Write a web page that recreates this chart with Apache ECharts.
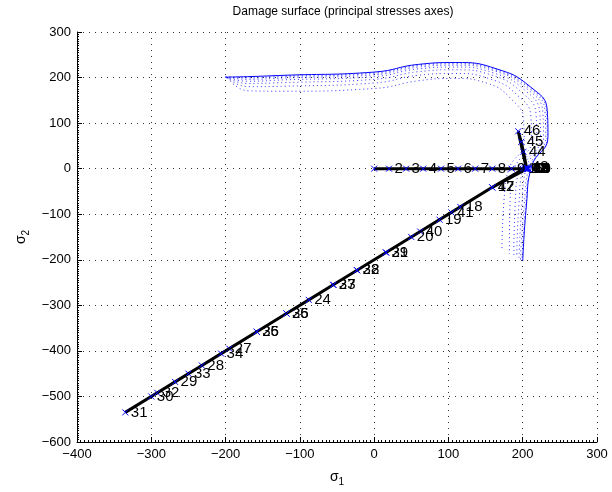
<!DOCTYPE html>
<html><head><meta charset="utf-8">
<script src="https://cdn.jsdelivr.net/npm/echarts@6/dist/echarts.min.js"></script>
<style>html,body{margin:0;padding:0;background:#fff}#c{width:612px;height:492px}</style>
</head><body><div id="c"></div>
<script>
// Blue damage surfaces (sigma1, sigma2), outermost first
const surface0 = [[-200,201],[-170,202],[-120,205],[0,212],[60,229],[110,233],[165,219],[210,180],[233,128],[234,70],[212,5],[205,-80],[200,-203]];
const surface1 = [[-200,201],[-170,201],[-120,204],[0,211],[60,228],[110,232],[165,218],[209,179],[232,127],[233,70],[211,4],[204,-79],[199,-202]];
const surface2 = [[-200,201],[-170,199],[-120,202],[0,209],[60,226],[110,230],[164,216],[208,177],[230,126],[231,69],[209,4],[202,-78],[197,-200]];
const surface3 = [[-200,201],[-170,196],[-120,199],[0,206],[60,223],[110,227],[163,214],[206,175],[227,124],[228,68],[205,3],[199,-77],[195,-198]];
const surface4 = [[-199,200],[-170,192],[-120,195],[0,202],[60,219],[109,223],[161,210],[203,172],[223,122],[224,67],[201,2],[195,-75],[192,-195]];
const surface5 = [[-199,200],[-170,187],[-120,189],[0,196],[60,213],[109,217],[159,205],[199,167],[218,119],[219,65],[196,1],[190,-73],[188,-192]];
const surface6 = [[-198,200],[-170,180],[-120,181],[0,188],[60,205],[108,209],[156,197],[193,161],[211,114],[212,63],[189,0],[183,-70],[182,-187]];
const surface7 = [[-197,199],[-170,171],[-120,170],[0,176],[60,193],[107,198],[153,187],[185,152],[201,108],[202,60],[181,-2],[175,-66],[172,-180]];
const surfaces = [surface0, surface1, surface2, surface3, surface4, surface5, surface6, surface7];

// Loading path points, labelled 1..50 (label 1 not shown)
const pathS1 = [0,20,43,66,90,113,136,159,185,200,203,204,205,206,207,208,
  159,116,88,50,16,-23,-55,-88,-118,-158,-195,-232,-268,-300,-335,
  -292,-250,-206,-158,-118,-55,-23,16,62,104,159,
  205,201,198,194,205,206,207,208];
const pathS2 = [0,0,0,0,0,0,0,0,0,0,0,0,0,0,0,0,
  -41,-84,-112,-150,-184,-223,-255,-288,-318,-358,-395,-432,-468,-500,-535,
  -492,-450,-406,-358,-318,-255,-223,-184,-138,-96,-41,
  3,37,59,82,0,0,0,0];

const xTicks = [-400,-300,-200,-100,0,100,200,300];
const yTicks = [-600,-500,-400,-300,-200,-100,0,100,200,300];

const chart = echarts.init(document.getElementById('c'), null, {renderer:'canvas'});
const font = 'Liberation Sans, Arial, Helvetica, sans-serif';
const series = [];
surfaces.forEach((s, i) => {
  series.push({
    type:'line', data:s, smooth:0.5, symbol:'none', silent:true, z:1,
    lineStyle: i === 0 ? {color:'#0000ff', width:1} : {color:'#2222ff', width:1, type:[1,3], opacity:0.9}
  });
});
series.push({
  type:'line', z:3,
  data: pathS1.map((v,i)=>[v, pathS2[i]]),
  lineStyle:{color:'#000', width:3},
  symbol:'path://M0,0L10,10M10,0L0,10', symbolSize:6, showAllSymbol:true,
  itemStyle:{color:'none', borderColor:'#0000ff', borderWidth:1},
  label:{show:true, position:'right', distance:0, color:'#000', fontSize:15, fontFamily:font,
    formatter: p => p.dataIndex === 0 ? '' : String(p.dataIndex + 1)},
  labelLayout:{hideOverlap:false}
});

chart.setOption({
  animation:false,
  title:{text:'Damage surface (principal stresses axes)', left:338, top:1, textAlign:'center',
    textStyle:{fontSize:12, fontWeight:'normal', color:'#000', fontFamily:font}},
  grid:{left:77, right:15, top:32, bottom:49, containLabel:false},
  xAxis:{type:'value', min:-400, max:300, interval:100,
    name:'{a|σ}{b|1}', nameLocation:'middle', nameGap:26,
    nameTextStyle:{rich:{a:{fontSize:14, color:'#000', fontFamily:font}, b:{fontSize:10, color:'#000', fontFamily:font, padding:[9,0,0,0]}}},
    axisLine:{onZero:false, lineStyle:{color:'#000', width:1}},
    axisTick:{inside:true, length:5, lineStyle:{color:'#000'}},
    minorTick:{show:true, splitNumber:20, length:2, lineStyle:{color:'#000'}},
    axisLabel:{color:'#000', fontSize:13, fontFamily:font, margin:6, formatter:v=>String(v).replace('-','\u2212')},
    splitLine:{show:true, lineStyle:{color:'#333', type:[1,5], width:1}}
  },
  yAxis:{type:'value', min:-600, max:300, interval:100,
    name:'{a|σ}{b|2}', nameLocation:'middle', nameGap:45, nameRotate:90,
    nameTextStyle:{rich:{a:{fontSize:14, color:'#000', fontFamily:font}, b:{fontSize:10, color:'#000', fontFamily:font, padding:[9,0,0,0]}}},
    axisLine:{onZero:false, lineStyle:{color:'#000', width:1}},
    axisTick:{inside:true, length:5, lineStyle:{color:'#000'}},
    minorTick:{show:true, splitNumber:20, length:2, lineStyle:{color:'#000'}},
    axisLabel:{color:'#000', fontSize:13, fontFamily:font, margin:6, formatter:v=>String(v).replace('-','\u2212')},
    splitLine:{show:true, lineStyle:{color:'#333', type:[1,5], width:1}}
  },
  series: series
});
</script></body></html>
